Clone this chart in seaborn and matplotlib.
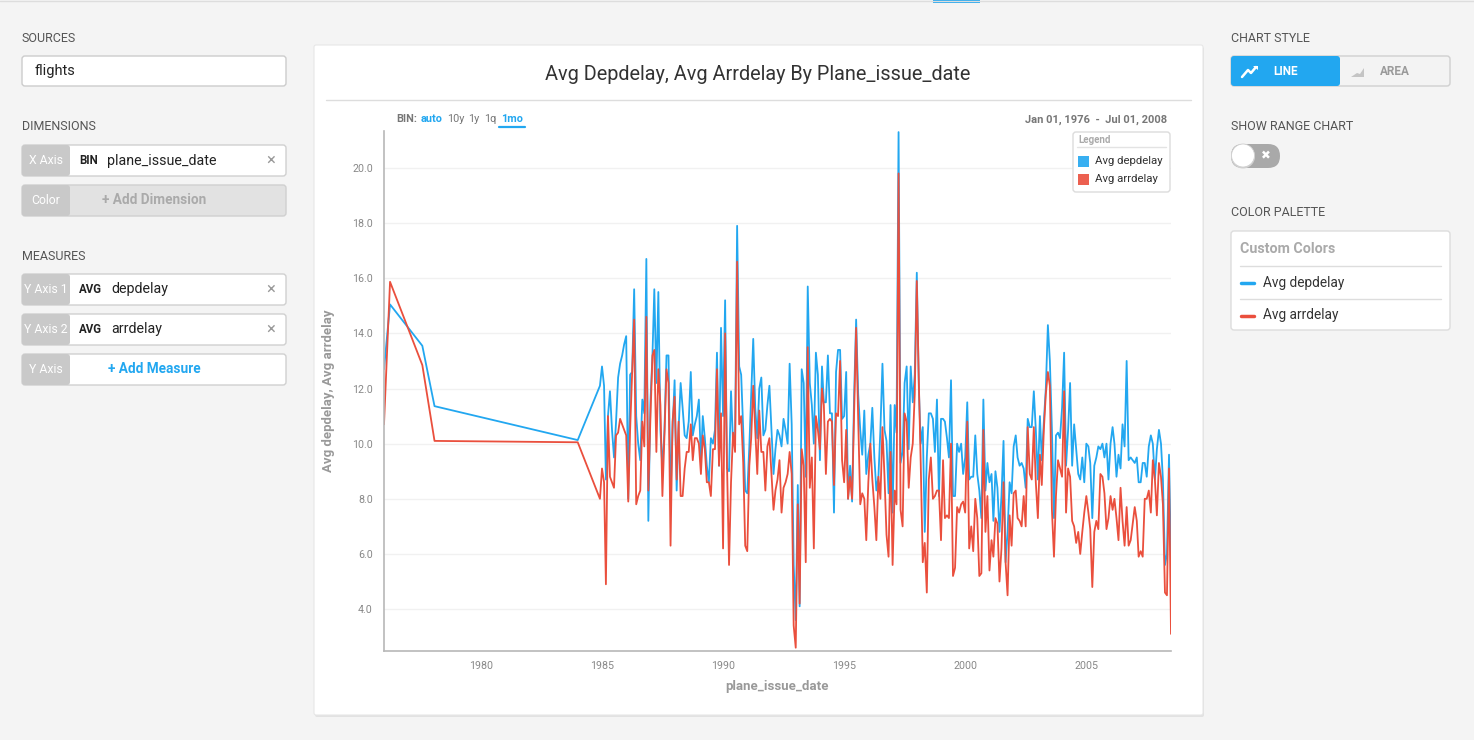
import numpy as np
import pandas as pd
import matplotlib
matplotlib.use("Agg")
import matplotlib.pyplot as plt
import matplotlib.dates as mdates
from matplotlib.ticker import FormatStrFormatter
from matplotlib.patches import FancyBboxPatch, Rectangle, Circle, Polygon
import seaborn as sns

W, H = 1474, 740
BLUE = "#22a7f0"
RED = "#ea4f3d"
GRAY_TXT = "#888888"

# sparse early bins (before the monthly data becomes dense)
early_dates = ["1976-01-01", "1976-04-01", "1977-08-01", "1978-02-01", "1984-01-01"]
early_dep = [12.7, 15.05, 13.55, 11.36, 10.13]
early_arr = [10.7, 15.87, 12.85, 10.10, 10.05]

# monthly bins Dec 1984 .. Jul 2008
monthly_start, monthly_end = "1984-12-01", "2008-07-01"
dep_monthly = [
    12.1, 12.8, 12.1, 8.7, 11.0, 11.9, 10.5, 9.5, 10.8, 12.4,
    12.9, 13.2, 13.6, 13.9, 8.0, 12.5, 12.6, 15.6, 11.0, 10.0,
    9.4, 11.6, 11.1, 16.7, 7.2, 11.5, 13.2, 15.6, 12.2, 15.5,
    10.5, 9.1, 10.5, 13.2, 13.2, 8.1, 10.5, 12.3, 8.3, 10.5,
    12.2, 11.3, 10.3, 10.2, 10.8, 12.6, 10.3, 10.7, 11.0, 11.6,
    9.3, 11.0, 10.2, 9.2, 8.6, 10.2, 10.0, 10.5,
    13.3, 9.2, 14.2, 11.0, 15.2, 9.1, 9.0, 11.9, 10.0, 10.2,
    17.9, 12.8, 12.5, 10.5, 8.3, 8.2, 9.9, 11.8, 13.8, 11.3,
    10.2, 12.0, 12.4, 10.3, 10.5, 11.4, 12.1, 10.5, 8.9, 9.8,
    10.5, 10.3, 9.9, 10.9, 10.5, 10.0, 12.9, 10.7, 5.6, 3.6,
    8.5, 4.1, 12.7, 12.2, 8.8, 15.7, 12.2, 11.4, 10.0, 13.3,
    12.5, 9.4, 12.8, 11.5, 11.5, 13.2,
    11.1, 11.1, 7.5, 12.6, 13.4, 13.4, 10.9, 11.0, 12.6, 8.0,
    9.2, 7.9, 11.8, 14.5, 11.8, 10.5, 9.6, 11.2, 8.9, 9.6,
    10.0, 11.3, 9.5, 8.3, 8.8, 10.5, 12.9, 10.5, 10.1, 8.2,
    11.4, 7.5, 11.4, 10.4, 21.3, 9.3, 9.7, 12.2, 12.8, 9.8,
    12.8, 11.5, 12.5, 16.2, 12.0, 10.0, 10.6, 6.8, 9.5, 11.1,
    11.1, 10.9, 9.7, 11.6, 8.1, 10.9, 10.9,
    10.8, 10.2, 9.5, 12.3, 8.1, 8.1, 10.0, 9.7, 10.0, 8.9,
    9.5, 11.5, 8.7, 8.8, 8.8, 10.3, 8.9, 8.3, 7.3, 11.6,
    8.3, 9.3, 8.6, 8.9, 7.2, 9.0, 8.4, 6.8, 8.1, 10.1,
    5.7, 6.8, 8.6, 8.2, 9.9, 10.3, 9.5, 9.2, 9.3, 9.1,
    8.4, 10.9, 10.6, 10.6, 11.9, 10.5, 8.7, 11.0, 9.4, 10.8,
    12.0, 14.3, 13.0, 10.5, 7.3, 10.3, 10.4,
    10.2, 11.3, 13.3, 9.2, 10.5, 12.2, 9.2, 10.7, 9.8, 8.9,
    8.7, 9.5, 8.6, 10.0, 9.9, 9.3, 7.3, 9.2, 9.5, 9.9,
    9.8, 10.0, 9.5, 10.0, 8.7, 10.0, 10.6, 10.0, 8.8, 9.6,
    9.1, 10.7, 9.9, 13.0, 9.4, 9.5, 9.4, 9.3, 9.5, 8.6,
    8.6, 9.3, 9.3, 8.8, 9.9, 10.3, 10.0, 8.7, 9.8, 10.5,
    10.0, 8.7, 5.6, 6.0, 9.6, 5.6,
]
arr_monthly = [
    8.0, 9.1, 8.6, 4.9, 11.0, 8.8, 8.6, 8.4, 10.3, 10.4,
    10.9, 10.7, 10.5, 10.3, 7.9, 10.5, 12.6, 14.5, 7.8, 8.1,
    8.3, 10.8, 9.9, 14.6, 8.3, 10.9, 13.2, 13.4, 9.7, 12.7,
    11.4, 8.1, 10.3, 12.7, 12.2, 6.3, 10.8, 11.7, 8.7, 10.8,
    8.1, 8.1, 9.1, 9.7, 9.7, 10.7, 9.4, 10.2, 10.2, 10.0,
    8.9, 10.3, 9.8, 8.6, 8.6, 8.1, 9.8, 9.8,
    12.7, 9.2, 11.1, 6.2, 14.0, 9.3, 5.6, 8.6, 10.4, 9.7,
    16.6, 10.7, 11.0, 9.3, 6.3, 6.1, 9.2, 10.2, 12.1, 10.5,
    8.9, 11.2, 9.7, 9.7, 8.3, 9.9, 10.2, 8.9, 7.6, 8.3,
    8.7, 9.4, 7.5, 8.4, 8.6, 8.9, 9.7, 8.9, 3.4, 2.6,
    7.8, 4.2, 9.8, 9.2, 5.7, 13.5, 8.4, 9.5, 6.2, 11.0,
    10.5, 9.8, 12.0, 11.4, 8.9, 10.8,
    10.9, 10.8, 8.5, 11.1, 11.0, 13.0, 9.4, 8.6, 10.5, 8.0,
    8.8, 8.0, 11.1, 14.2, 10.9, 7.8, 8.2, 8.0, 6.5, 8.6,
    10.0, 8.7, 7.7, 6.5, 8.8, 8.0, 10.6, 8.8, 6.7, 5.9,
    9.7, 5.6, 8.3, 7.8, 19.8, 7.6, 7.0, 11.1, 10.8, 8.4,
    9.5, 10.0, 11.8, 15.9, 12.2, 9.3, 5.7, 6.4, 4.6, 8.7,
    9.5, 8.0, 8.1, 8.3, 8.3, 6.5, 9.4,
    7.3, 7.4, 7.3, 10.0, 5.2, 5.5, 7.7, 7.5, 7.8, 7.9,
    7.5, 10.8, 6.2, 7.0, 6.1, 8.0, 7.3, 5.2, 5.3, 10.5,
    6.8, 8.1, 5.4, 6.5, 5.9, 7.3, 7.1, 5.0, 6.2, 8.6,
    5.7, 4.5, 7.4, 6.3, 8.2, 8.3, 7.3, 7.2, 7.0, 8.1,
    7.0, 10.6, 8.9, 8.7, 10.6, 8.6, 7.3, 9.6, 8.5, 10.5,
    11.8, 12.6, 12.1, 7.6, 5.9, 8.1, 9.4,
    9.1, 8.8, 11.9, 7.5, 9.1, 8.8, 7.2, 7.0, 6.4, 6.8,
    6.0, 6.8, 7.5, 8.1, 7.5, 6.9, 4.8, 6.8, 7.2, 6.9,
    8.9, 8.8, 8.2, 6.9, 7.3, 8.1, 7.6, 8.0, 7.3, 6.5,
    8.4, 7.2, 6.3, 7.7, 6.3, 6.5, 7.1, 7.7, 7.2, 5.9,
    6.1, 5.9, 8.0, 8.0, 8.3, 7.5, 9.4, 8.7, 7.4, 9.3,
    8.8, 7.8, 4.6, 4.5, 9.1, 3.1,
]
series_names = ["Avg depdelay", "Avg arrdelay"]

months = pd.date_range(monthly_start, monthly_end, freq="MS")
dates = list(pd.to_datetime(early_dates)) + list(months)
dep = early_dep + dep_monthly
arr = early_arr + arr_monthly
assert len(dates) == len(dep) == len(arr)

df = pd.concat([
    pd.DataFrame({"date": dates, "value": dep, "series": series_names[0]}),
    pd.DataFrame({"date": dates, "value": arr, "series": series_names[1]}),
])

sns.set_style("white")
plt.rcParams["font.family"] = ["Roboto", "DejaVu Sans"]

fig = plt.figure(figsize=(W / 100, H / 100), dpi=100)
fig.patch.set_facecolor("#f4f4f4")

# background UI layer in pixel coordinates (y down)
ui = fig.add_axes([0, 0, 1, 1], zorder=0)
ui.set_xlim(0, W)
ui.set_ylim(H, 0)
ui.axis("off")


def rbox(ax_, x0, y0, x1, y1, fc, ec="none", lw=1.0, r=3, z=1):
    ax_.add_patch(FancyBboxPatch((x0, y0), x1 - x0, y1 - y0,
                                 boxstyle=f"round,pad=0,rounding_size={r}",
                                 fc=fc, ec=ec, lw=lw, zorder=z))


def heading(x, y, s):
    ui.text(x, y, s, fontsize=9, color="#555555", va="center", ha="left")


# top strip
ui.plot([0, W], [1, 1], color="#dddddd", lw=1)
ui.add_patch(Rectangle((933, 0), 47, 2.5, fc=BLUE, ec="none"))

# ---- left panel
heading(22, 38, "SOURCES")
rbox(ui, 22, 56, 286, 86, "white", ec="#cccccc")
ui.text(35, 71, "flights", fontsize=10.5, color="#222222", va="center")

heading(22, 127, "DIMENSIONS")
heading(22, 256, "MEASURES")


def shelf(y0, label, right_fc="white"):
    rbox(ui, 22, y0, 286, y0 + 31, right_fc, ec="#d0d0d0")
    rbox(ui, 22, y0, 70, y0 + 31, "#c9c9c9", r=3, z=2)
    ui.text(46, y0 + 15.5, label, fontsize=8.8, color="white", ha="center", va="center", zorder=3)


def closex(y):
    ui.text(271, y, "\u00d7", fontsize=12, color="#999999", ha="center", va="center")


shelf(145, "X Axis")
ui.text(79, 160.5, "BIN", fontsize=8.3, fontweight="bold", color="#222222", va="center")
ui.text(107, 160.5, "plane_issue_date", fontsize=10.3, color="#222222", va="center")
closex(160)

shelf(185, "Color", right_fc="#e2e2e2")
ui.text(154, 200, "+ Add Dimension", fontsize=9.8, fontweight="bold", color="#aaaaaa",
        ha="center", va="center", zorder=3)

shelf(274, "Y Axis 1")
ui.text(79, 289.5, "AVG", fontsize=8.3, fontweight="bold", color="#222222", va="center")
ui.text(111, 289.5, "depdelay", fontsize=10.3, color="#222222", va="center")
closex(289)

shelf(314, "Y Axis 2")
ui.text(79, 329.5, "AVG", fontsize=8.3, fontweight="bold", color="#222222", va="center")
ui.text(111, 329.5, "arrdelay", fontsize=10.3, color="#222222", va="center")
closex(329)

shelf(354, "Y Axis")
ui.text(154, 369, "+ Add Measure", fontsize=9.8, fontweight="bold", color=BLUE,
        ha="center", va="center", zorder=3)

# ---- right panel
heading(1231, 38, "CHART STYLE")
rbox(ui, 1231, 56, 1450, 86, "#f3f3f3", ec="#d0d0d0")
rbox(ui, 1231, 56, 1340, 86, BLUE, r=3, z=2)
ui.plot([1242, 1248, 1251, 1256], [77, 70, 73, 67], color="white", lw=1.8, zorder=3,
        solid_capstyle="round", solid_joinstyle="round")
ui.add_patch(Polygon([[1253, 65.5], [1258, 65.5], [1258, 70]], fc="white", ec="none", zorder=3))
ui.text(1286, 71.5, "LINE", fontsize=8.5, fontweight="bold", color="white", ha="center", va="center", zorder=3)
ui.add_patch(Polygon([[1351, 77], [1357, 73], [1360, 74], [1364, 68], [1364, 77]],
                     fc="#c4c4c4", ec="none", zorder=3))
ui.text(1395, 71.5, "AREA", fontsize=8.5, fontweight="bold", color="#9a9a9a", ha="center", va="center", zorder=3)

heading(1231, 127, "SHOW RANGE CHART")
rbox(ui, 1231, 144, 1280, 168, "#a9a9a9", r=12)
ui.add_patch(Circle((1243, 156.5), 12, fc="#d0d0d0", ec="none", zorder=2))
ui.add_patch(Circle((1243, 155.5), 11.5, fc="white", ec="#cfcfcf", lw=0.6, zorder=3))
ui.text(1266, 156, "\u2716", fontsize=8.5, color="white", ha="center", va="center",
        family=["DejaVu Sans"], zorder=3)

heading(1231, 213, "COLOR PALETTE")
rbox(ui, 1231, 231, 1450, 330, "white", ec="#dddddd")
ui.text(1240, 249, "Custom Colors", fontsize=10.3, fontweight="bold", color="#aaaaaa", va="center", zorder=3)
ui.plot([1240, 1441], [266, 266], color="#dddddd", lw=1, zorder=3)
ui.plot([1240, 1441], [299, 299], color="#dddddd", lw=1, zorder=3)
ui.plot([1241, 1254], [283, 283], color=BLUE, lw=2.5, zorder=3)
ui.plot([1241, 1254], [316, 316], color=RED, lw=2.5, zorder=3)
ui.text(1263, 282.5, series_names[0], fontsize=9.8, color="#333333", va="center", zorder=3)
ui.text(1263, 315.5, series_names[1], fontsize=9.8, color="#333333", va="center", zorder=3)

# ---- chart card
rbox(ui, 315, 47, 1204, 717, "#e2e2e2", r=2, z=1)
rbox(ui, 314, 45, 1203, 715, "white", ec="#e6e6e6", lw=0.8, r=2, z=2)
ui.text(758, 74, "Avg Depdelay, Avg Arrdelay By Plane_issue_date", fontsize=14.3,
        color="#333333", ha="center", va="center", zorder=3)
ui.plot([326, 1191], [100, 100], color="#dddddd", lw=1, zorder=3)

ui.text(396, 119.5, "BIN:", fontsize=7.8, fontweight="bold", color="#777777", va="center", zorder=3)
ui.text(421, 119.5, "auto", fontsize=7.8, fontweight="bold", color=BLUE, va="center", zorder=3)
ui.text(447, 119.5, "10y", fontsize=7.8, color="#777777", va="center", zorder=3)
ui.text(468, 119.5, "1y", fontsize=7.8, color="#777777", va="center", zorder=3)
ui.text(484, 119.5, "1q", fontsize=7.8, color="#777777", va="center", zorder=3)
ui.text(501, 119.5, "1mo", fontsize=7.8, fontweight="bold", color=BLUE, va="center", zorder=3)
ui.plot([499, 525], [127, 127], color=BLUE, lw=1.6, zorder=3)
ui.text(1167, 119.5, "Jan 01, 1976  -  Jul 01, 2008", fontsize=8, fontweight="bold",
        color="#777777", ha="right", va="center", zorder=3)

# ---- main line chart
ax = fig.add_axes([384 / W, (H - 651) / H, (1171 - 384) / W, (651 - 131) / H], zorder=1)
ax.set_facecolor("white")
sns.lineplot(data=df, x="date", y="value", hue="series", hue_order=series_names,
             palette=[BLUE, RED], estimator=None, lw=1.3, legend=False, ax=ax)
ax.set_xlim(pd.Timestamp("1976-01-01"), pd.Timestamp("2008-07-01"))
ax.set_ylim(2.48, 21.34)
ax.set_yticks(np.arange(4, 21, 2))
ax.yaxis.set_major_formatter(FormatStrFormatter("%.1f"))
ax.xaxis.set_major_locator(mdates.YearLocator(5))
ax.xaxis.set_major_formatter(mdates.DateFormatter("%Y"))
ax.grid(axis="y", color="#f1f1f1", lw=1)
ax.grid(axis="x", visible=False)
ax.set_axisbelow(True)
for side in ["top", "right"]:
    ax.spines[side].set_visible(False)
for side in ["left", "bottom"]:
    ax.spines[side].set_color("#b8b8b8")
    ax.spines[side].set_linewidth(1.2)
ax.tick_params(axis="y", length=3, pad=5, color="#cccccc", labelsize=7.7, labelcolor=GRAY_TXT)
ax.tick_params(axis="x", length=4, pad=3, color="#b8b8b8", labelsize=7.7, labelcolor=GRAY_TXT)
ax.set_xlabel("plane_issue_date", fontsize=9.5, fontweight="bold", color="#999999", labelpad=7)
ax.set_ylabel("Avg depdelay, Avg arrdelay", fontsize=9.5, fontweight="bold", color="#999999", labelpad=12)

# ---- legend overlay
ov = fig.add_axes([0, 0, 1, 1], zorder=2)
ov.set_xlim(0, W)
ov.set_ylim(H, 0)
ov.axis("off")
ov.patch.set_alpha(0)
rbox(ov, 1073, 132, 1170, 192, "white", ec="#dcdcdc", r=3)
ov.text(1078, 140, "Legend", fontsize=7, fontweight="bold", color="#aaaaaa", va="center", zorder=3)
ov.plot([1077, 1166], [147, 147], color="#e3e3e3", lw=1, zorder=3)
for i, (name, col) in enumerate(zip(series_names, [BLUE, RED])):
    yy = 161.5 + 17.5 * i
    ov.add_patch(Rectangle((1078, yy - 5.5), 11, 11, fc=col, ec="none", alpha=0.9, zorder=3))
    ov.text(1095, yy, name, fontsize=8.2, color="#333333", va="center", zorder=3)

fig.savefig("out.png", dpi=100, facecolor=fig.get_facecolor())
